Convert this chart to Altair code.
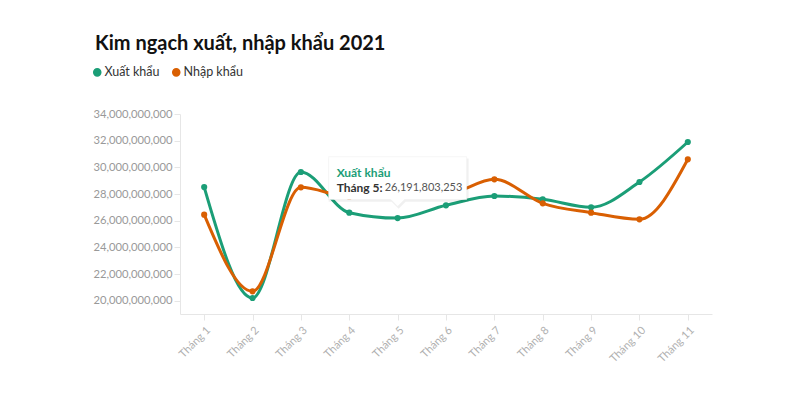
import altair as alt
import pandas as pd

months = ["Tháng 1", "Tháng 2", "Tháng 3", "Tháng 4", "Tháng 5", "Tháng 6",
          "Tháng 7", "Tháng 8", "Tháng 9", "Tháng 10", "Tháng 11"]
xuat_khau = [28.52e9, 20.2e9, 29.65e9, 26.6e9, 26191803253, 27.15e9,
             27.85e9, 27.6e9, 27.0e9, 28.9e9, 31.9e9]
nhap_khau = [26.45e9, 20.7e9, 28.5e9, 27.8e9, 28.0e9, 28.0e9,
             29.1e9, 27.3e9, 26.6e9, 26.1e9, 30.6e9]
series = ["Xuất khẩu", "Nhập khẩu"]
colors = ["#1b9e77", "#d95f02"]
y_ticks = [20e9, 22e9, 24e9, 26e9, 28e9, 30e9, 32e9, 34e9]

rows = []
for m, v in zip(months, xuat_khau):
    rows.append({"month": m, "series": series[0], "value": v})
for m, v in zip(months, nhap_khau):
    rows.append({"month": m, "series": series[1], "value": v})
df = pd.DataFrame(rows)

tip_df = pd.DataFrame([{"month": months[4], "value": xuat_khau[4],
                        "name": series[0], "label": months[4] + ":",
                        "num": f"{xuat_khau[4]:,.0f}"}])

FONT = "Lato"

x_enc = alt.X("month:N", sort=months, title=None,
              scale=alt.Scale(type="point", padding=0.5),
              axis=alt.Axis(labelAngle=-45, labelColor="#b0b0b0", labelFontSize=11,
                            labelFont=FONT, tickColor="#e6e6e6", tickSize=6,
                            domainColor="#e6e6e6", grid=False, labelPadding=4))
y_enc = alt.Y("value:Q", title=None,
              scale=alt.Scale(domain=[19.0e9, 34e9], nice=False, zero=False),
              axis=alt.Axis(values=y_ticks, format=",.0f", labelColor="#999999",
                            labelFontSize=11.2, labelFont=FONT, tickColor="#e6e6e6",
                            tickSize=6, domainColor="#e6e6e6", grid=False,
                            labelPadding=2, labelOverlap=False))
color_enc = alt.Color("series:N", sort=series,
                      scale=alt.Scale(domain=series, range=colors),
                      legend=alt.Legend(title=None, orient="none", direction="horizontal",
                                        legendX=-89, legendY=-48, symbolType="circle",
                                        symbolSize=50, labelFontSize=12.5, labelFont=FONT,
                                        labelColor="#333333", columnPadding=9,
                                        labelOffset=1))

base = alt.Chart(df)
lines = base.mark_line(interpolate="monotone", strokeWidth=3).encode(
    x=x_enc, y=y_enc, color=color_enc)
points = base.mark_circle(size=38, opacity=1).encode(
    x=x_enc, y=y_enc, color=alt.Color("series:N", scale=alt.Scale(domain=series, range=colors), legend=None))

tip = alt.Chart(tip_df)
box_path = "M-1,-0.31 L1,-0.31 L1,0.31 L0.1,0.31 L0,0.41 L-0.1,0.31 L-1,0.31 Z"
shadow = tip.mark_point(shape=box_path, filled=True, fill="#000000", fillOpacity=0.06,
                        strokeWidth=0, size=140 * 140, yOffset=-38, xOffset=1).encode(
    x=x_enc, y=y_enc)
box = tip.mark_point(shape=box_path, filled=True, fill="#ffffff", fillOpacity=1,
                     stroke="#eeeeee", strokeWidth=0.5, size=138 * 138, yOffset=-40).encode(
    x=x_enc, y=y_enc)
t1 = tip.mark_text(align="left", baseline="middle", dx=-61, dy=-45, font=FONT,
                   fontSize=12, fontWeight="bold", color="#1b9e77").encode(
    x=x_enc, y=y_enc, text="name:N")
t2 = tip.mark_text(align="left", baseline="middle", dx=-61, dy=-30, font=FONT,
                   fontSize=12, fontWeight="bold", color="#333333").encode(
    x=x_enc, y=y_enc, text="label:N")
t3 = tip.mark_text(align="left", baseline="middle", dx=-13, dy=-30, font=FONT,
                   fontSize=11, color="#555555").encode(
    x=x_enc, y=y_enc, text="num:N")

chart = alt.layer(lines, points, shadow, box, t1, t2, t3).properties(
    width=532, height=200,
    autosize=alt.AutoSizeParams(type="none"),
    padding={"left": 172, "top": 106, "right": 80, "bottom": 71},
    background="#ffffff",
    title=alt.TitleParams("Kim ngạch xuất, nhập khẩu 2021", anchor="start", frame="group",
                          font=FONT, fontSize=20, fontWeight="bold", color="#111111",
                          dx=-85, offset=12),
).configure_view(strokeWidth=0)

chart.save("out.html", embed_options={"renderer": "svg", "actions": False})
